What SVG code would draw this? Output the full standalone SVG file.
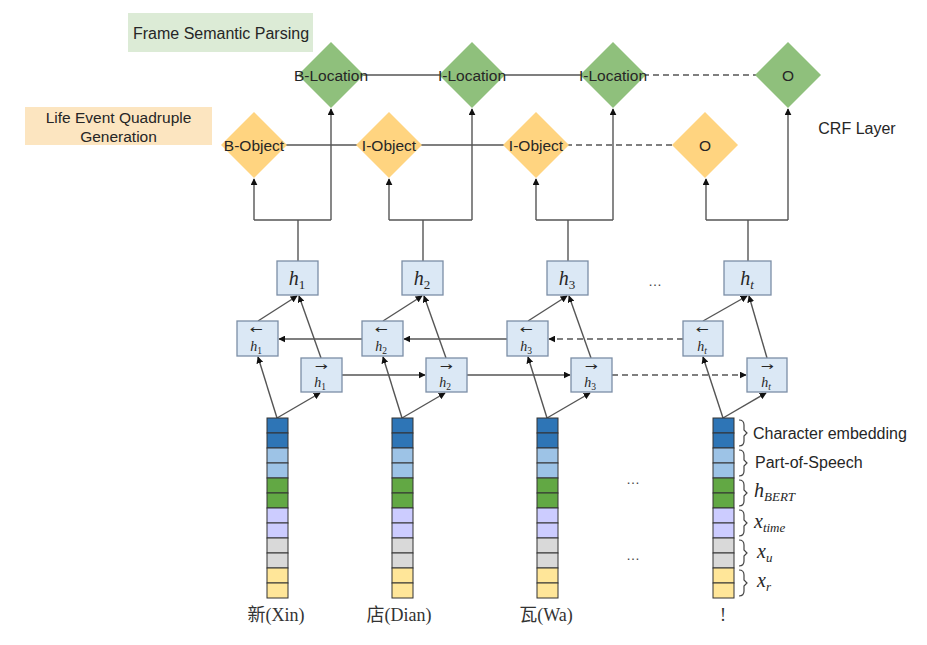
<svg xmlns="http://www.w3.org/2000/svg" width="927" height="645" viewBox="0 0 927 645">
<style>
.lbl{font-family:"Liberation Sans",Arial,sans-serif;font-size:15.5px;fill:#262626;text-anchor:middle;dominant-baseline:central}
.g{fill:#8fc07c}
.o{fill:#ffd480}
.ln{stroke:#555;stroke-width:1.4;fill:none}
.dash{stroke-dasharray:6,4}
.hb{fill:#dbe8f5;stroke:#7c8ea6;stroke-width:1.3}
.m{font-family:"Liberation Serif","DejaVu Serif",serif;font-style:italic;fill:#262626;text-anchor:middle}
.up{font-style:normal}
.ar{font-family:"DejaVu Sans",sans-serif;fill:#262626;text-anchor:middle;font-size:11px}
.cell{stroke:#333;stroke-width:1}
.br{stroke:#444;stroke-width:1.2;fill:none}
.side{font-family:"Liberation Sans",Arial,sans-serif;font-size:16px;fill:#262626}
.bot{font-family:"Liberation Serif","Noto Sans CJK SC",serif;font-size:18px;fill:#333;text-anchor:middle}
.dots{font-family:"Liberation Sans",Arial,sans-serif;font-size:14px;fill:#444;text-anchor:middle}
</style>
<defs>
<marker id="ah" viewBox="0 0 10 10" refX="9" refY="5" markerWidth="5" markerHeight="5" orient="auto-start-reverse">
<path d="M0,0 L10,5 L0,10 z" fill="#111"/>
</marker>
<g id="col">
<rect class="cell" x="0" y="0" width="21" height="15" fill="#2e75b6"/>
<rect class="cell" x="0" y="15" width="21" height="15" fill="#2e75b6"/>
<rect class="cell" x="0" y="30" width="21" height="15" fill="#9dc3e6"/>
<rect class="cell" x="0" y="45" width="21" height="15" fill="#9dc3e6"/>
<rect class="cell" x="0" y="60" width="21" height="15" fill="#62a844"/>
<rect class="cell" x="0" y="75" width="21" height="15" fill="#62a844"/>
<rect class="cell" x="0" y="90" width="21" height="15" fill="#ccccff"/>
<rect class="cell" x="0" y="105" width="21" height="15" fill="#ccccff"/>
<rect class="cell" x="0" y="120" width="21" height="15" fill="#d9d9d9"/>
<rect class="cell" x="0" y="135" width="21" height="15" fill="#d9d9d9"/>
<rect class="cell" x="0" y="150" width="21" height="15" fill="#ffe699"/>
<rect class="cell" x="0" y="165" width="21" height="15" fill="#ffe699"/>
</g>
</defs>

<!-- title boxes -->
<g id="title-fsp">
<rect x="128" y="13" width="185" height="39" fill="#dcebd6"/>
<text class="lbl" x="221" y="33" style="font-size:16px">Frame Semantic Parsing</text>
</g>
<g id="title-lifeevent">
<rect x="25" y="107" width="187" height="38" fill="#fce5c0"/>
<text class="lbl" x="118.5" y="117" style="font-size:15.5px">Life Event Quadruple</text>
<text class="lbl" x="118.5" y="136" style="font-size:15.5px">Generation</text>
</g>
<g id="crf-label">
<text class="lbl" x="857" y="128" style="font-size:16px">CRF Layer</text>
</g>

<!-- connectors -->
<g id="connectors">
<line class="ln" x1="331" y1="75" x2="613" y2="75"/>
<line class="ln dash" x1="613" y1="75" x2="788" y2="75"/>
<line class="ln" x1="254" y1="145" x2="536" y2="145"/>
<line class="ln dash" x1="536" y1="145" x2="705" y2="145"/>
<path class="ln" d="M298,261 V220"/>
<path class="ln" d="M254,220 H331" />
<path class="ln" d="M254,220 V179" marker-end="url(#ah)"/>
<path class="ln" d="M331,220 V109" marker-end="url(#ah)"/>
<path class="ln" d="M423,261 V220"/>
<path class="ln" d="M389,220 H472" />
<path class="ln" d="M389,220 V179" marker-end="url(#ah)"/>
<path class="ln" d="M472,220 V109" marker-end="url(#ah)"/>
<path class="ln" d="M568,261 V220"/>
<path class="ln" d="M536,220 H613" />
<path class="ln" d="M536,220 V179" marker-end="url(#ah)"/>
<path class="ln" d="M613,220 V109" marker-end="url(#ah)"/>
<path class="ln" d="M748,261 V220"/>
<path class="ln" d="M706,220 H788" />
<path class="ln" d="M706,220 V179" marker-end="url(#ah)"/>
<path class="ln" d="M788,220 V109" marker-end="url(#ah)"/>
<path class="ln" d="M258,321 L297,296" marker-end="url(#ah)"/>
<path class="ln" d="M321,358 L299,296" marker-end="url(#ah)"/>
<path class="ln" d="M383,321 L422,296" marker-end="url(#ah)"/>
<path class="ln" d="M446,358 L424,296" marker-end="url(#ah)"/>
<path class="ln" d="M528,321 L567,296" marker-end="url(#ah)"/>
<path class="ln" d="M591,358 L569,296" marker-end="url(#ah)"/>
<path class="ln" d="M703,321 L747,296" marker-end="url(#ah)"/>
<path class="ln" d="M767,358 L749,296" marker-end="url(#ah)"/>
<path class="ln" d="M362,339 H279" marker-end="url(#ah)"/>
<path class="ln" d="M507,339 H404" marker-end="url(#ah)"/>
<path class="ln dash" d="M683,339 H549" marker-end="url(#ah)"/>
<path class="ln" d="M342,375 H425" marker-end="url(#ah)"/>
<path class="ln" d="M467,375 H570" marker-end="url(#ah)"/>
<path class="ln dash" d="M612,375 H746" marker-end="url(#ah)"/>
<path class="ln" d="M277,418 L258,357" marker-end="url(#ah)"/>
<path class="ln" d="M277,418 L320,393" marker-end="url(#ah)"/>
<path class="ln" d="M402,418 L383,357" marker-end="url(#ah)"/>
<path class="ln" d="M402,418 L445,393" marker-end="url(#ah)"/>
<path class="ln" d="M547,418 L528,357" marker-end="url(#ah)"/>
<path class="ln" d="M547,418 L590,393" marker-end="url(#ah)"/>
<path class="ln" d="M723,418 L703,357" marker-end="url(#ah)"/>
<path class="ln" d="M723,418 L766,393" marker-end="url(#ah)"/>
</g>

<!-- green diamonds -->
<g id="d-blocation"><polygon class="g" points="331,42 364,75 331,108 298,75"/><text class="lbl" x="331" y="75">B-Location</text></g>
<g id="d-ilocation1"><polygon class="g" points="472,42 505,75 472,108 439,75"/><text class="lbl" x="472" y="75">I-Location</text></g>
<g id="d-ilocation2"><polygon class="g" points="613,42 646,75 613,108 580,75"/><text class="lbl" x="613" y="75">I-Location</text></g>
<g id="d-o-green"><polygon class="g" points="788,42 821,75 788,108 755,75"/><text class="lbl" x="788" y="75">O</text></g>

<!-- orange diamonds -->
<g id="d-bobject"><polygon class="o" points="254,112 287,145 254,178 221,145"/><text class="lbl" x="254" y="145">B-Object</text></g>
<g id="d-iobject1"><polygon class="o" points="389,112 422,145 389,178 356,145"/><text class="lbl" x="389" y="145">I-Object</text></g>
<g id="d-iobject2"><polygon class="o" points="536,112 569,145 536,178 503,145"/><text class="lbl" x="536" y="145">I-Object</text></g>
<g id="d-o-orange"><polygon class="o" points="705,112 738,145 705,178 672,145"/><text class="lbl" x="705" y="145">O</text></g>

<!-- hidden states -->
<g id="h1"><rect class="hb" x="277" y="261" width="41" height="34"/><text class="m" x="297" y="285" font-size="20">h<tspan class="up" font-size="13" dy="4">1</tspan></text></g>
<g id="h2"><rect class="hb" x="402" y="261" width="41" height="34"/><text class="m" x="422" y="285" font-size="20">h<tspan class="up" font-size="13" dy="4">2</tspan></text></g>
<g id="h3"><rect class="hb" x="547" y="261" width="41" height="34"/><text class="m" x="567" y="285" font-size="20">h<tspan class="up" font-size="13" dy="4">3</tspan></text></g>
<g id="ht"><rect class="hb" x="724" y="261" width="47" height="34"/><text class="m" x="747" y="285" font-size="20">h<tspan font-size="13" dy="4">t</tspan></text></g>
<text class="dots" x="655" y="286">…</text>

<g id="bh1"><rect class="hb" x="237" y="321" width="41" height="35"/><text class="ar" x="256" y="333" textLength="13" lengthAdjust="spacingAndGlyphs">←</text><text class="m" x="256" y="351" font-size="14">h<tspan class="up" font-size="9.5" dy="3">1</tspan></text></g>
<g id="bh2"><rect class="hb" x="362" y="321" width="41" height="35"/><text class="ar" x="381" y="333" textLength="13" lengthAdjust="spacingAndGlyphs">←</text><text class="m" x="381" y="351" font-size="14">h<tspan class="up" font-size="9.5" dy="3">2</tspan></text></g>
<g id="bh3"><rect class="hb" x="507" y="321" width="41" height="35"/><text class="ar" x="526" y="333" textLength="13" lengthAdjust="spacingAndGlyphs">←</text><text class="m" x="526" y="351" font-size="14">h<tspan class="up" font-size="9.5" dy="3">3</tspan></text></g>
<g id="bht"><rect class="hb" x="683" y="321" width="40" height="35"/><text class="ar" x="702" y="333" textLength="13" lengthAdjust="spacingAndGlyphs">←</text><text class="m" x="702" y="351" font-size="14">h<tspan font-size="9.5" dy="3">t</tspan></text></g>

<g id="fh1"><rect class="hb" x="301" y="358" width="41" height="34"/><text class="ar" x="321" y="370" textLength="13" lengthAdjust="spacingAndGlyphs">→</text><text class="m" x="320" y="387" font-size="14">h<tspan class="up" font-size="9.5" dy="3">1</tspan></text></g>
<g id="fh2"><rect class="hb" x="426" y="358" width="41" height="34"/><text class="ar" x="446" y="370" textLength="13" lengthAdjust="spacingAndGlyphs">→</text><text class="m" x="445" y="387" font-size="14">h<tspan class="up" font-size="9.5" dy="3">2</tspan></text></g>
<g id="fh3"><rect class="hb" x="571" y="358" width="41" height="34"/><text class="ar" x="591" y="370" textLength="13" lengthAdjust="spacingAndGlyphs">→</text><text class="m" x="590" y="387" font-size="14">h<tspan class="up" font-size="9.5" dy="3">3</tspan></text></g>
<g id="fht"><rect class="hb" x="747" y="358" width="40" height="34"/><text class="ar" x="767" y="370" textLength="13" lengthAdjust="spacingAndGlyphs">→</text><text class="m" x="766" y="387" font-size="14">h<tspan font-size="9.5" dy="3">t</tspan></text></g>

<!-- embedding columns -->
<g id="emb1"><use href="#col" x="267" y="418"/><text class="bot" x="276" y="621">新(Xin)</text></g>
<g id="emb2"><use href="#col" x="392" y="418"/><text class="bot" x="399" y="621">店(Dian)</text></g>
<g id="emb3"><use href="#col" x="537" y="418"/><text class="bot" x="546" y="621">瓦(Wa)</text></g>
<g id="emb4"><use href="#col" x="713" y="418"/><text class="bot" x="723" y="621">!</text></g>
<text class="dots" x="633" y="484">…</text>
<text class="dots" x="633" y="560">…</text>

<!-- brackets and legend -->
<g id="legend">
<path class="br" d="M739,420 Q744,420 744,425 V430 L747,433 L744,436 V441 Q744,446 739,446"/>
<path class="br" d="M739,450 Q744,450 744,455 V460 L747,463 L744,466 V471 Q744,476 739,476"/>
<path class="br" d="M739,480 Q744,480 744,485 V490 L747,493 L744,496 V501 Q744,506 739,506"/>
<path class="br" d="M739,510 Q744,510 744,515 V520 L747,523 L744,526 V531 Q744,536 739,536"/>
<path class="br" d="M739,540 Q744,540 744,545 V550 L747,553 L744,556 V561 Q744,566 739,566"/>
<path class="br" d="M739,570 Q744,570 744,575 V580 L747,583 L744,586 V591 Q744,596 739,596"/>
<text class="side" x="753" y="439">Character embedding</text>
<text class="side" x="755" y="468">Part-of-Speech</text>
<text class="m" x="754" y="497" font-size="20" style="text-anchor:start">h<tspan font-size="13" dy="4">BERT</tspan></text>
<text class="m" x="754" y="528" font-size="20" style="text-anchor:start">x<tspan font-size="13" dy="4">time</tspan></text>
<text class="m" x="757" y="558" font-size="20" style="text-anchor:start">x<tspan font-size="13" dy="4">u</tspan></text>
<text class="m" x="757" y="587" font-size="20" style="text-anchor:start">x<tspan font-size="13" dy="4">r</tspan></text>
</g>
</svg>
